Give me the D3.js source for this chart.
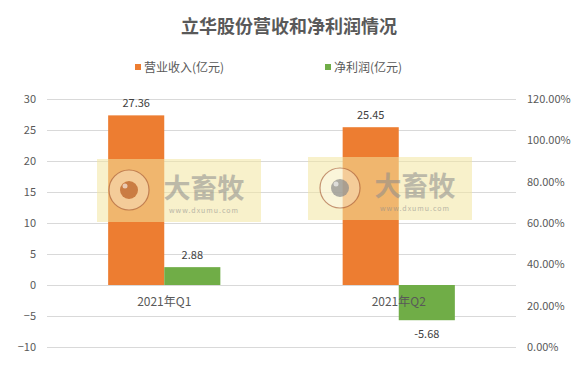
<!DOCTYPE html>
<html>
<head>
<meta charset="utf-8">
<script src="https://cdn.jsdelivr.net/npm/d3@7"></script>
<style>
  body { margin: 0; background: #fff; }
  svg text { font-family: "Noto Sans CJK SC", "Noto Sans", sans-serif; }
</style>
</head>
<body>
<svg id="chart" width="578" height="380"></svg>
<script>
const categories = ['2021年Q1', '2021年Q2']
const seriesNames = ['营业收入(亿元)', '净利润(亿元)']
const revenue = [27.36, 25.45]
const netProfit = [2.88, -5.68]
const leftTicks = [-10, -5, 0, 5, 10, 15, 20, 25, 30]
const rightTicks = [0, 0.2, 0.4, 0.6, 0.8, 1.0, 1.2]
const colors = ['#ED7D31', '#70AD47']

const svg = d3.select('#chart')
const plot = { left: 47, right: 516, top: 99, bottom: 347 }

const y = d3.scaleLinear().domain([-10, 30]).range([plot.bottom, plot.top])
const yRight = d3.scaleLinear().domain([0, 1.2]).range([plot.bottom, plot.top])
const x0 = d3.scaleBand().domain(categories).range([plot.left, plot.right])
const x1 = d3.scaleBand().domain(seriesNames).range([0, x0.bandwidth()])
  .paddingInner(0).paddingOuter(1.09)

// title
svg.append('text')
  .attr('x', 289).attr('y', 33)
  .attr('text-anchor', 'middle')
  .attr('font-size', 18).attr('font-weight', 'bold')
  .attr('fill', '#595959')
  .text('立华股份营收和净利润情况')

// legend
const legendX = [135, 325]
seriesNames.forEach((name, i) => {
  svg.append('rect')
    .attr('x', legendX[i]).attr('y', 64)
    .attr('width', 6).attr('height', 6)
    .attr('fill', colors[i])
  svg.append('text')
    .attr('x', legendX[i] + 9).attr('y', 71.5)
    .attr('font-size', 12).attr('fill', '#595959')
    .text(name)
})

// gridlines
svg.append('g')
  .selectAll('line')
  .data(leftTicks)
  .join('line')
  .attr('x1', plot.left).attr('x2', plot.right)
  .attr('y1', d => Math.round(y(d)) + 0.5)
  .attr('y2', d => Math.round(y(d)) + 0.5)
  .attr('stroke', '#d9d9d9')

// left axis
const leftAxis = svg.append('g')
  .attr('transform', 'translate(' + (plot.left - 11) + ',0)')
  .call(d3.axisLeft(y).tickValues(leftTicks).tickSize(0).tickPadding(0))
leftAxis.select('.domain').remove()
leftAxis.selectAll('text').attr('font-size', 11).attr('fill', '#595959')

// right axis
const rightAxis = svg.append('g')
  .attr('transform', 'translate(' + (plot.right + 11) + ',0)')
  .call(d3.axisRight(yRight).tickValues(rightTicks).tickSize(0).tickPadding(0)
    .tickFormat(d3.format('.2%')))
rightAxis.select('.domain').remove()
rightAxis.selectAll('text').attr('font-size', 11).attr('fill', '#595959')

// bars
const series = [revenue, netProfit]
series.forEach((values, s) => {
  svg.append('g')
    .selectAll('rect')
    .data(values)
    .join('rect')
    .attr('x', (d, i) => x0(categories[i]) + x1(seriesNames[s]))
    .attr('width', x1.bandwidth())
    .attr('y', d => y(Math.max(0, d)))
    .attr('height', d => Math.abs(y(d) - y(0)))
    .attr('fill', colors[s])

  svg.append('g')
    .selectAll('text')
    .data(values)
    .join('text')
    .attr('x', (d, i) => x0(categories[i]) + x1(seriesNames[s]) + x1.bandwidth() / 2)
    .attr('y', d => d >= 0 ? y(d) - 8 : y(d) + 18)
    .attr('text-anchor', 'middle')
    .attr('font-size', 11).attr('fill', '#404040')
    .text(d => d.toFixed(2))
})

// category labels
svg.append('g')
  .selectAll('text')
  .data(categories)
  .join('text')
  .attr('x', d => x0(d) + x0.bandwidth() / 2)
  .attr('y', y(0) + 21)
  .attr('text-anchor', 'middle')
  .attr('font-size', 12).attr('fill', '#595959')
  .text(d => d)

// watermarks
const marks = [{ x: 97, y: 159, eye: '#b85a1e' }, { x: 308, y: 157, eye: '#8a8a8a' }]
marks.forEach(m => {
  const g = svg.append('g').attr('transform', 'translate(' + m.x + ',' + m.y + ')')
  g.append('rect').attr('width', 164).attr('height', 63)
    .attr('fill', '#f2e6a0').attr('opacity', 0.55)
  g.append('circle').attr('cx', 32).attr('cy', 31).attr('r', 20)
    .attr('fill', '#fff').attr('fill-opacity', 0.3)
    .attr('stroke', '#a0522d').attr('stroke-opacity', 0.6).attr('stroke-width', 1.2)
  g.append('circle').attr('cx', 32).attr('cy', 31).attr('r', 9)
    .attr('fill', m.eye).attr('opacity', 0.7)
  g.append('circle').attr('cx', 28).attr('cy', 27).attr('r', 2.5)
    .attr('fill', '#fff').attr('opacity', 0.6)
  g.append('text').attr('x', 107).attr('y', 39)
    .attr('text-anchor', 'middle')
    .attr('font-size', 27).attr('font-weight', 'bold')
    .attr('fill', '#8c8c8c').attr('opacity', 0.55)
    .text('大畜牧')
  g.append('text').attr('x', 107).attr('y', 54)
    .attr('text-anchor', 'middle')
    .attr('font-size', 7).attr('letter-spacing', 1)
    .attr('fill', '#8c8c8c').attr('opacity', 0.6)
    .text('www.dxumu.com')
})
</script>
</body>
</html>
